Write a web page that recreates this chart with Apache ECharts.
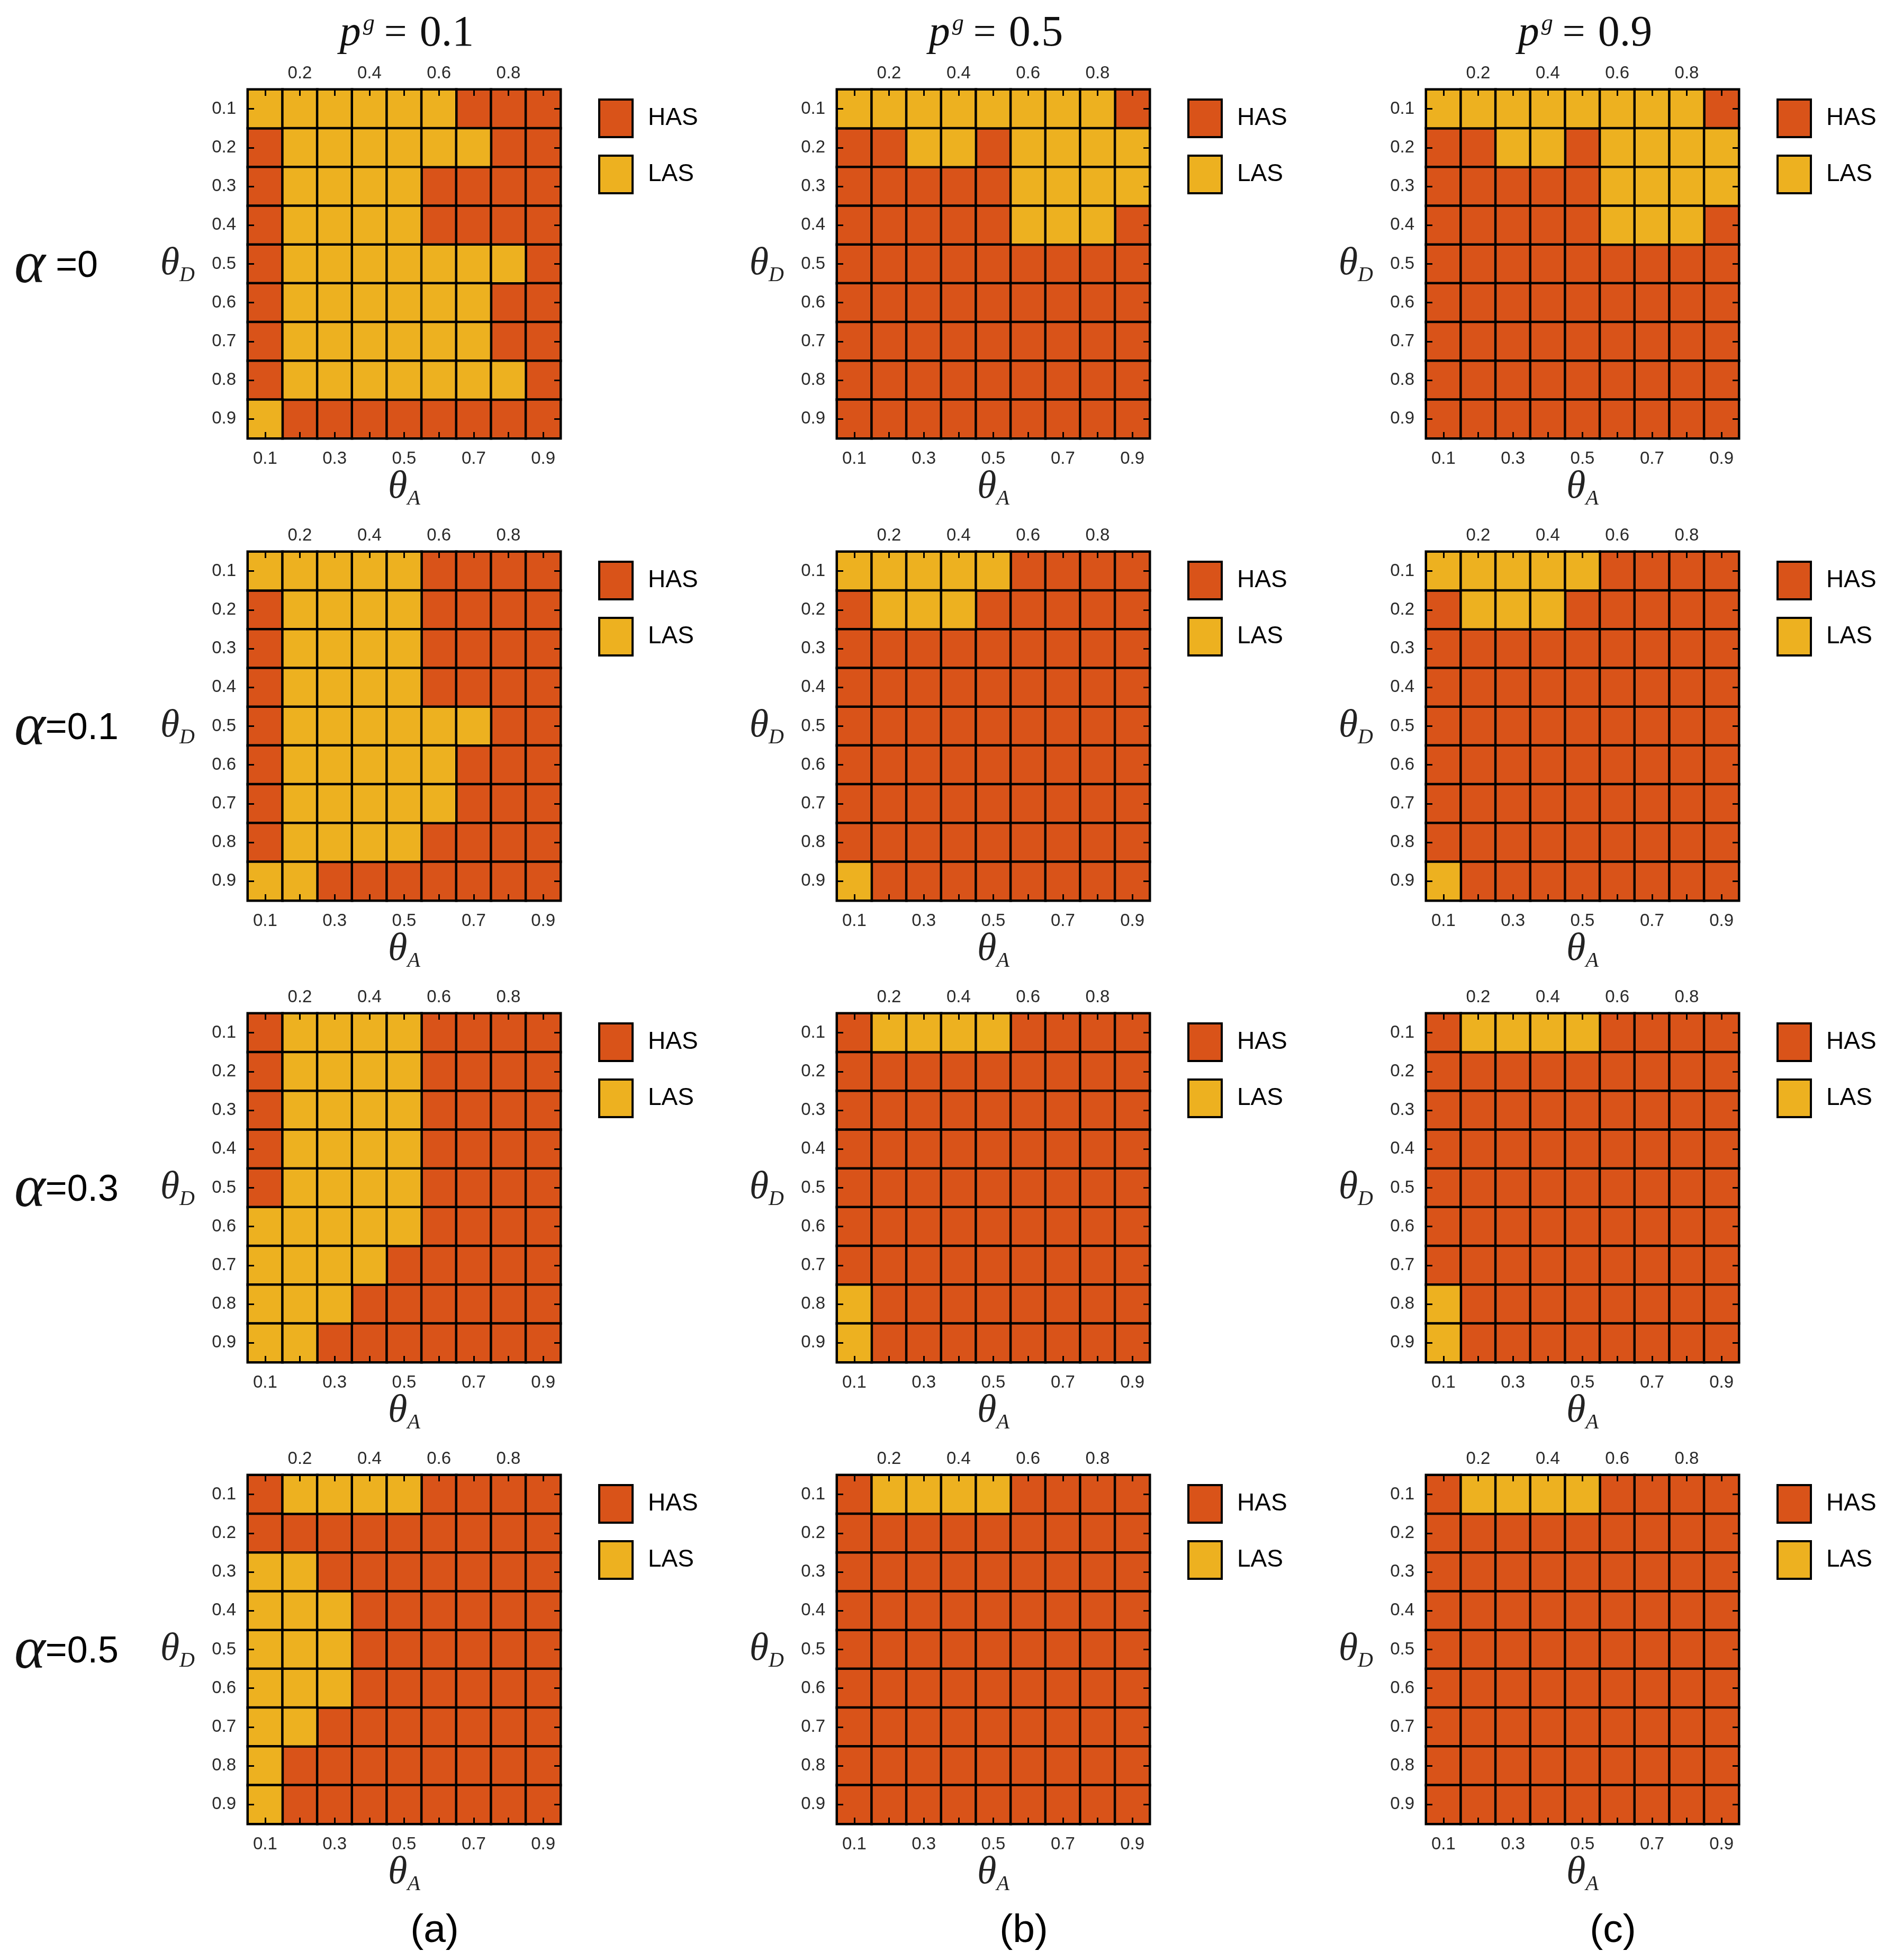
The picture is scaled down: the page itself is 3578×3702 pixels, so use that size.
<!DOCTYPE html>
<html>
<head>
<meta charset="utf-8">
<script src="https://cdn.jsdelivr.net/npm/echarts@6/dist/echarts.min.js"></script>
<style>
  html, body { margin: 0; padding: 0; background: #fff; }
  #chart { width: 3578px; height: 3702px; }
</style>
</head>
<body>
<div id="chart"></div>
<script>
// theta values on both axes (θA columns, θD rows)
const thetaCats = ['0.1', '0.2', '0.3', '0.4', '0.5', '0.6', '0.7', '0.8', '0.9'];
const pgLabels = ['0.1', '0.5', '0.9'];
const alphaLabels = ['0', '0.1', '0.3', '0.5'];
const panelLetters = ['(a)', '(b)', '(c)'];
const classNames = ['LAS', 'HAS']; // 0 = LAS, 1 = HAS

// rows: θD 0.1 -> 0.9, columns: θA 0.1 -> 0.9
const a_alpha0 = [
    [0, 0, 0, 0, 0, 0, 1, 1, 1],
    [1, 0, 0, 0, 0, 0, 0, 1, 1],
    [1, 0, 0, 0, 0, 1, 1, 1, 1],
    [1, 0, 0, 0, 0, 1, 1, 1, 1],
    [1, 0, 0, 0, 0, 0, 0, 0, 1],
    [1, 0, 0, 0, 0, 0, 0, 1, 1],
    [1, 0, 0, 0, 0, 0, 0, 1, 1],
    [1, 0, 0, 0, 0, 0, 0, 0, 1],
    [0, 1, 1, 1, 1, 1, 1, 1, 1]
];
const b_alpha0 = [
    [0, 0, 0, 0, 0, 0, 0, 0, 1],
    [1, 1, 0, 0, 1, 0, 0, 0, 0],
    [1, 1, 1, 1, 1, 0, 0, 0, 0],
    [1, 1, 1, 1, 1, 0, 0, 0, 1],
    [1, 1, 1, 1, 1, 1, 1, 1, 1],
    [1, 1, 1, 1, 1, 1, 1, 1, 1],
    [1, 1, 1, 1, 1, 1, 1, 1, 1],
    [1, 1, 1, 1, 1, 1, 1, 1, 1],
    [1, 1, 1, 1, 1, 1, 1, 1, 1]
];
const c_alpha0 = [
    [0, 0, 0, 0, 0, 0, 0, 0, 1],
    [1, 1, 0, 0, 1, 0, 0, 0, 0],
    [1, 1, 1, 1, 1, 0, 0, 0, 0],
    [1, 1, 1, 1, 1, 0, 0, 0, 1],
    [1, 1, 1, 1, 1, 1, 1, 1, 1],
    [1, 1, 1, 1, 1, 1, 1, 1, 1],
    [1, 1, 1, 1, 1, 1, 1, 1, 1],
    [1, 1, 1, 1, 1, 1, 1, 1, 1],
    [1, 1, 1, 1, 1, 1, 1, 1, 1]
];
const a_alpha01 = [
    [0, 0, 0, 0, 0, 1, 1, 1, 1],
    [1, 0, 0, 0, 0, 1, 1, 1, 1],
    [1, 0, 0, 0, 0, 1, 1, 1, 1],
    [1, 0, 0, 0, 0, 1, 1, 1, 1],
    [1, 0, 0, 0, 0, 0, 0, 1, 1],
    [1, 0, 0, 0, 0, 0, 1, 1, 1],
    [1, 0, 0, 0, 0, 0, 1, 1, 1],
    [1, 0, 0, 0, 0, 1, 1, 1, 1],
    [0, 0, 1, 1, 1, 1, 1, 1, 1]
];
const b_alpha01 = [
    [0, 0, 0, 0, 0, 1, 1, 1, 1],
    [1, 0, 0, 0, 1, 1, 1, 1, 1],
    [1, 1, 1, 1, 1, 1, 1, 1, 1],
    [1, 1, 1, 1, 1, 1, 1, 1, 1],
    [1, 1, 1, 1, 1, 1, 1, 1, 1],
    [1, 1, 1, 1, 1, 1, 1, 1, 1],
    [1, 1, 1, 1, 1, 1, 1, 1, 1],
    [1, 1, 1, 1, 1, 1, 1, 1, 1],
    [0, 1, 1, 1, 1, 1, 1, 1, 1]
];
const c_alpha01 = [
    [0, 0, 0, 0, 0, 1, 1, 1, 1],
    [1, 0, 0, 0, 1, 1, 1, 1, 1],
    [1, 1, 1, 1, 1, 1, 1, 1, 1],
    [1, 1, 1, 1, 1, 1, 1, 1, 1],
    [1, 1, 1, 1, 1, 1, 1, 1, 1],
    [1, 1, 1, 1, 1, 1, 1, 1, 1],
    [1, 1, 1, 1, 1, 1, 1, 1, 1],
    [1, 1, 1, 1, 1, 1, 1, 1, 1],
    [0, 1, 1, 1, 1, 1, 1, 1, 1]
];
const a_alpha03 = [
    [1, 0, 0, 0, 0, 1, 1, 1, 1],
    [1, 0, 0, 0, 0, 1, 1, 1, 1],
    [1, 0, 0, 0, 0, 1, 1, 1, 1],
    [1, 0, 0, 0, 0, 1, 1, 1, 1],
    [1, 0, 0, 0, 0, 1, 1, 1, 1],
    [0, 0, 0, 0, 0, 1, 1, 1, 1],
    [0, 0, 0, 0, 1, 1, 1, 1, 1],
    [0, 0, 0, 1, 1, 1, 1, 1, 1],
    [0, 0, 1, 1, 1, 1, 1, 1, 1]
];
const b_alpha03 = [
    [1, 0, 0, 0, 0, 1, 1, 1, 1],
    [1, 1, 1, 1, 1, 1, 1, 1, 1],
    [1, 1, 1, 1, 1, 1, 1, 1, 1],
    [1, 1, 1, 1, 1, 1, 1, 1, 1],
    [1, 1, 1, 1, 1, 1, 1, 1, 1],
    [1, 1, 1, 1, 1, 1, 1, 1, 1],
    [1, 1, 1, 1, 1, 1, 1, 1, 1],
    [0, 1, 1, 1, 1, 1, 1, 1, 1],
    [0, 1, 1, 1, 1, 1, 1, 1, 1]
];
const c_alpha03 = [
    [1, 0, 0, 0, 0, 1, 1, 1, 1],
    [1, 1, 1, 1, 1, 1, 1, 1, 1],
    [1, 1, 1, 1, 1, 1, 1, 1, 1],
    [1, 1, 1, 1, 1, 1, 1, 1, 1],
    [1, 1, 1, 1, 1, 1, 1, 1, 1],
    [1, 1, 1, 1, 1, 1, 1, 1, 1],
    [1, 1, 1, 1, 1, 1, 1, 1, 1],
    [0, 1, 1, 1, 1, 1, 1, 1, 1],
    [0, 1, 1, 1, 1, 1, 1, 1, 1]
];
const a_alpha05 = [
    [1, 0, 0, 0, 0, 1, 1, 1, 1],
    [1, 1, 1, 1, 1, 1, 1, 1, 1],
    [0, 0, 1, 1, 1, 1, 1, 1, 1],
    [0, 0, 0, 1, 1, 1, 1, 1, 1],
    [0, 0, 0, 1, 1, 1, 1, 1, 1],
    [0, 0, 0, 1, 1, 1, 1, 1, 1],
    [0, 0, 1, 1, 1, 1, 1, 1, 1],
    [0, 1, 1, 1, 1, 1, 1, 1, 1],
    [0, 1, 1, 1, 1, 1, 1, 1, 1]
];
const b_alpha05 = [
    [1, 0, 0, 0, 0, 1, 1, 1, 1],
    [1, 1, 1, 1, 1, 1, 1, 1, 1],
    [1, 1, 1, 1, 1, 1, 1, 1, 1],
    [1, 1, 1, 1, 1, 1, 1, 1, 1],
    [1, 1, 1, 1, 1, 1, 1, 1, 1],
    [1, 1, 1, 1, 1, 1, 1, 1, 1],
    [1, 1, 1, 1, 1, 1, 1, 1, 1],
    [1, 1, 1, 1, 1, 1, 1, 1, 1],
    [1, 1, 1, 1, 1, 1, 1, 1, 1]
];
const c_alpha05 = [
    [1, 0, 0, 0, 0, 1, 1, 1, 1],
    [1, 1, 1, 1, 1, 1, 1, 1, 1],
    [1, 1, 1, 1, 1, 1, 1, 1, 1],
    [1, 1, 1, 1, 1, 1, 1, 1, 1],
    [1, 1, 1, 1, 1, 1, 1, 1, 1],
    [1, 1, 1, 1, 1, 1, 1, 1, 1],
    [1, 1, 1, 1, 1, 1, 1, 1, 1],
    [1, 1, 1, 1, 1, 1, 1, 1, 1],
    [1, 1, 1, 1, 1, 1, 1, 1, 1]
];

// rows of the figure = alpha, columns = p^g
const panelRows = [
    [a_alpha0, b_alpha0, c_alpha0],
    [a_alpha01, b_alpha01, c_alpha01],
    [a_alpha03, b_alpha03, c_alpha03],
    [a_alpha05, b_alpha05, c_alpha05]
];

const HAS_COLOR = '#D95319';
const LAS_COLOR = '#EDB120';
const SANS = 'Liberation Sans, Arial, sans-serif';
const SERIF = 'Liberation Serif, Times New Roman, serif';

// layout (pixels)
const colLeft = [468, 1581, 2694];
const rowTop = [169, 1042, 1914, 2786];
const gridW = 591;
const gridH = 659;

const chart = echarts.init(document.getElementById('chart'), null, { renderer: 'canvas' });

const grids = [];
const xAxes = [];
const yAxes = [];
const series = [];
const legends = [];
const titles = [];

const tickStyle = {
    show: true,
    inside: true,
    length: 12,
    alignWithLabel: true,
    interval: 0,
    lineStyle: { color: '#000', width: 3 }
};
const lineStyle = { show: true, lineStyle: { color: '#000', width: 4 } };
const labelStyle = { fontSize: 33, color: '#2a2a2a', fontFamily: SANS };

const thetaName = sub => ({
    name: '{t|θ}{s|' + sub + '}',
    nameTextStyle: {
        rich: {
            t: { fontFamily: SERIF, fontStyle: 'italic', fontSize: 74, lineHeight: 84, color: '#222', verticalAlign: 'middle' },
            s: { fontFamily: SERIF, fontStyle: 'italic', fontSize: 40, lineHeight: 84, color: '#222', verticalAlign: 'bottom' }
        }
    }
});

panelRows.forEach((row, r) => {
    row.forEach((cells, c) => {
        const k = r * 3 + c;
        grids.push({ left: colLeft[c], top: rowTop[r], width: gridW, height: gridH, containLabel: false });

        xAxes.push(Object.assign({
            type: 'category', gridIndex: k, position: 'bottom', data: thetaCats, z: 5,
            axisLine: lineStyle, axisTick: tickStyle, splitLine: { show: false },
            axisLabel: Object.assign({ interval: 1, margin: 22 }, labelStyle),
            nameLocation: 'middle', nameGap: 40
        }, thetaName('A')));
        xAxes.push({
            type: 'category', gridIndex: k, position: 'top', data: thetaCats, z: 5,
            axisLine: lineStyle, axisTick: tickStyle, splitLine: { show: false },
            axisLabel: Object.assign({ interval: idx => idx % 2 === 1, margin: 14 }, labelStyle)
        });
        yAxes.push(Object.assign({
            type: 'category', gridIndex: k, position: 'left', data: thetaCats, inverse: true, z: 5,
            axisLine: lineStyle, axisTick: tickStyle, splitLine: { show: false },
            axisLabel: Object.assign({ interval: 0, margin: 22 }, labelStyle),
            nameLocation: 'middle', nameRotate: 0, nameGap: 100
        }, thetaName('D')));
        yAxes.push({
            type: 'category', gridIndex: k, position: 'right', data: thetaCats, inverse: true, z: 5,
            axisLine: lineStyle, axisTick: tickStyle, splitLine: { show: false },
            axisLabel: { show: false }
        });

        [1, 0].forEach(cls => {
            const data = [];
            cells.forEach((rowVals, yi) => {
                rowVals.forEach((v, xi) => {
                    if (v === cls) data.push([xi, yi, v]);
                });
            });
            series.push({
                name: classNames[cls],
                type: 'heatmap',
                xAxisIndex: 2 * k,
                yAxisIndex: 2 * k,
                data: data,
                itemStyle: {
                    color: cls === 1 ? HAS_COLOR : LAS_COLOR,
                    borderColor: '#000',
                    borderWidth: 4.5
                },
                emphasis: { disabled: true },
                label: { show: false }
            });
        });

        legends.push({
            left: colLeft[c] + 662,
            top: rowTop[r] + 17,
            orient: 'vertical',
            padding: 0,
            itemWidth: 63,
            itemHeight: 71,
            itemGap: 31,
            selectedMode: false,
            icon: 'rect',
            data: ['HAS', 'LAS'],
            itemStyle: { borderColor: '#000', borderWidth: 4 },
            textStyle: { fontSize: 46, fontFamily: SANS, color: '#000', padding: [0, 0, 0, 24] }
        });
    });
});

// column titles p^g = ...
pgLabels.forEach((pg, c) => {
    titles.push({
        text: '{p|p}{g|g}{e|=}{n|' + pg + '}',
        left: colLeft[c] + gridW / 2,
        top: 14,
        textAlign: 'center',
        textStyle: {
            fontWeight: 'normal',
            rich: {
                p: { fontFamily: SERIF, fontStyle: 'italic', fontWeight: 'normal', fontSize: 80, lineHeight: 90, color: '#111' },
                g: { fontFamily: SERIF, fontStyle: 'italic', fontWeight: 'normal', fontSize: 44, lineHeight: 90, color: '#111', verticalAlign: 'top', padding: [4, 0, 0, 4] },
                e: { fontFamily: SERIF, fontWeight: 'normal', fontSize: 76, lineHeight: 90, color: '#111', padding: [0, 24, 0, 18] },
                n: { fontFamily: SERIF, fontWeight: 'normal', fontSize: 82, lineHeight: 90, color: '#111' }
            }
        }
    });
});

// row labels alpha = ...
alphaLabels.forEach((a, r) => {
    titles.push({
        text: '{a|α}{e|' + (r === 0 ? ' =' : '=') + a + '}',
        left: 22,
        top: rowTop[r] + gridH / 2,
        textVerticalAlign: 'middle',
        textStyle: {
            fontWeight: 'normal',
            rich: {
                a: { fontFamily: SERIF, fontStyle: 'italic', fontWeight: 'normal', fontSize: 112, color: '#111' },
                e: { fontFamily: SANS, fontWeight: 'normal', fontSize: 70, color: '#000' }
            }
        }
    });
});

// panel letters
panelLetters.forEach((p, c) => {
    titles.push({
        text: p,
        left: colLeft[c] + 348,
        top: 3642,
        textAlign: 'center',
        textVerticalAlign: 'middle',
        textStyle: { fontSize: 75, fontWeight: 'normal', fontFamily: SANS, color: '#000' }
    });
});

chart.setOption({
    backgroundColor: '#fff',
    animation: false,
    title: titles,
    legend: legends,
    grid: grids,
    xAxis: xAxes,
    yAxis: yAxes,
    series: series
});
</script>
</body>
</html>
